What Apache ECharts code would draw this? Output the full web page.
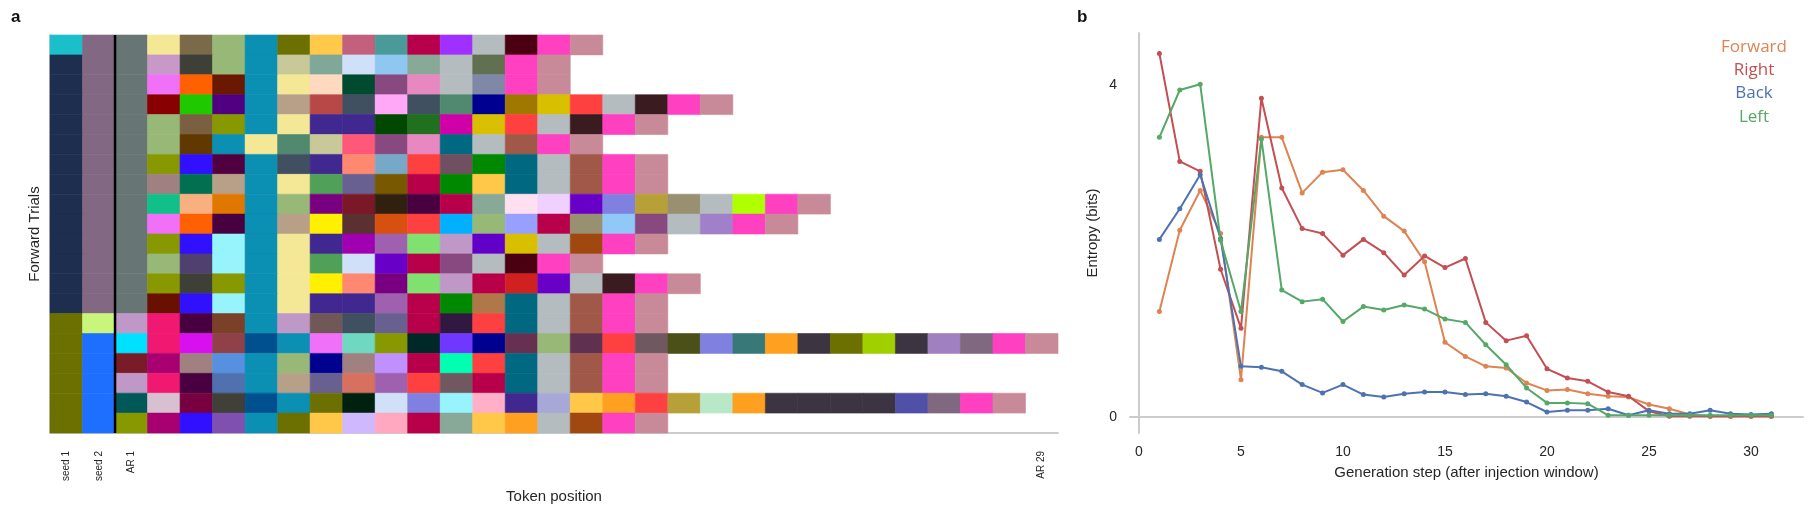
<!DOCTYPE html>
<html>
<head>
<meta charset="utf-8">
<script src="https://cdn.jsdelivr.net/npm/echarts@6/dist/echarts.min.js"></script>
<style>
  html, body { margin: 0; padding: 0; background: #fff; }
  #chart { width: 1811px; height: 511px; }
</style>
</head>
<body>
<div id="chart"></div>
<script>
// ---- panel a: token colours per trial row (col 0 = seed 1, col 1 = seed 2, col 2.. = AR 1..AR 29)
const tokenLabels = ['seed 1', 'seed 2', 'AR 1'].concat(Array(27).fill(''), ['AR 29'])
const fwd = ['#1e2e4e', '#836883', '#687575']
const tokenRows = [
    ['#1bbfc9', '#836883', '#687575', '#f4e896', '#7a6a4a', '#98b878', '#0b8fb3', '#6b7000', '#ffc94a', '#c2607e', '#4a9a9a', '#b8004a', '#a030ff', '#b4bcc0', '#4a0010', '#ff40c0', '#c88a98'],
    [...fwd, '#c898c8', '#3e4038', '#98b878', '#0b8fb3', '#c8c898', '#80a898', '#d0e0f8', '#8ec8f0', '#88a898', '#b4bcc0', '#607050', '#ff40c0', '#c88a98'],
    [...fwd, '#f070f8', '#ff6000', '#6a1800', '#0b8fb3', '#f4e896', '#ffd8c0', '#004a30', '#884880', '#e888c0', '#b4bcc0', '#8088a8', '#ff40c0', '#c88a98'],
    [...fwd, '#880000', '#20c800', '#500080', '#0b8fb3', '#b8a088', '#b84848', '#405060', '#ffa8f8', '#405060', '#508870', '#000090', '#a07800', '#d8c000', '#ff4040', '#b4bcc0', '#3a1c20', '#ff40c0', '#c88a98'],
    [...fwd, '#98b878', '#7a6040', '#889800', '#0b8fb3', '#f4e896', '#402890', '#402890', '#004800', '#207020', '#d000a8', '#d8c000', '#ff4040', '#b4bcc0', '#3a1c20', '#ff40c0', '#c88a98'],
    [...fwd, '#98b878', '#603800', '#0b8fb3', '#f4e896', '#508870', '#c8c898', '#ff5878', '#884880', '#e888c0', '#006880', '#b4bcc0', '#a05848', '#ff40c0', '#c88a98'],
    [...fwd, '#889800', '#3010ff', '#500040', '#0b8fb3', '#405060', '#402890', '#ff8870', '#78a8c8', '#ff4040', '#705060', '#008800', '#006880', '#b4bcc0', '#a05848', '#ff40c0', '#c88a98'],
    [...fwd, '#a08080', '#007050', '#b8a088', '#0b8fb3', '#f4e896', '#50a058', '#686090', '#785800', '#b8004a', '#008800', '#ffc848', '#006880', '#b4bcc0', '#a05848', '#ff40c0', '#c88a98'],
    [...fwd, '#10c088', '#f8b080', '#e07800', '#0b8fb3', '#98b878', '#780080', '#7a1828', '#302010', '#480040', '#b8004a', '#88a898', '#ffe0f0', '#f0d0ff', '#6800c8', '#8080e0', '#b8a038', '#989070', '#b4bcc0', '#b0ff00', '#ff40c0', '#c88a98'],
    [...fwd, '#f070f8', '#ff6000', '#480040', '#0b8fb3', '#b8a088', '#fff000', '#5a3030', '#d85010', '#ff4040', '#00b0ff', '#98b878', '#98a0ff', '#b8004a', '#989070', '#90c8f8', '#884880', '#b4bcc0', '#a080c8', '#ff40c0', '#c88a98'],
    [...fwd, '#889800', '#3010ff', '#98f4fc', '#0b8fb3', '#f4e896', '#402890', '#a000b0', '#a060b0', '#80e070', '#c098c8', '#6000c8', '#d8c000', '#b4bcc0', '#a04810', '#ff40c0', '#c88a98'],
    [...fwd, '#98b878', '#504070', '#98f4fc', '#0b8fb3', '#f4e896', '#50a058', '#d0e0f8', '#6800c8', '#b8004a', '#884880', '#b4bcc0', '#4a0010', '#ff40c0', '#c88a98'],
    [...fwd, '#889800', '#3e4038', '#889800', '#0b8fb3', '#f4e896', '#fff000', '#ff8870', '#780080', '#80e070', '#c098c8', '#b8004a', '#d02020', '#6800c8', '#b4bcc0', '#3a1c20', '#ff40c0', '#c88a98'],
    [...fwd, '#6a1000', '#3010ff', '#98f4fc', '#0b8fb3', '#f4e896', '#402890', '#402890', '#a060b0', '#b8004a', '#008800', '#b07848', '#006880', '#b4bcc0', '#a05848', '#ff40c0', '#c88a98'],
    ['#6b7000', '#c8f57a', '#c098c8', '#f01870', '#480040', '#7a4028', '#0b8fb3', '#c098c8', '#705858', '#405060', '#686090', '#b8004a', '#301840', '#ff4040', '#006880', '#b4bcc0', '#a05848', '#ff40c0', '#c88a98'],
    ['#6b7000', '#1f6fff', '#00e0ff', '#f01870', '#d810f0', '#904048', '#005090', '#0b8fb3', '#f070f8', '#70d8c0', '#889800', '#002828', '#7038ff', '#000090', '#683050', '#98b878', '#603050', '#ff4040', '#705860', '#4a5018', '#8080e0', '#387878', '#ffa020', '#3c3440', '#6b7000', '#a0d000', '#3c3440', '#a080c0', '#806880', '#ff40c0', '#c88a98'],
    ['#6b7000', '#1f6fff', '#7a1c28', '#a80070', '#a08080', '#5890e0', '#0b8fb3', '#98b878', '#000090', '#a08080', '#c090ff', '#b8004a', '#00ffb0', '#ff4040', '#006880', '#b4bcc0', '#a05848', '#ff40c0', '#c88a98'],
    ['#6b7000', '#1f6fff', '#c098c8', '#f01870', '#480040', '#5070b0', '#0b8fb3', '#b8a088', '#686090', '#d87060', '#a060b0', '#ff4040', '#705860', '#b8004a', '#006880', '#b4bcc0', '#a05848', '#ff40c0', '#c88a98'],
    ['#6b7000', '#1f6fff', '#005858', '#d8c0d0', '#780040', '#404038', '#005090', '#0b8fb3', '#6b7000', '#002010', '#d0e0f8', '#8080e0', '#98f4fc', '#ffb0c8', '#402890', '#a8a8d8', '#ffc848', '#ffa020', '#ff4040', '#b8a038', '#b8e8c8', '#ffa020', '#3c3440', '#3c3440', '#3c3440', '#3c3440', '#5050a8', '#806880', '#ff40c0', '#c88a98'],
    ['#6b7000', '#1f6fff', '#889800', '#a80070', '#3010ff', '#8050b0', '#0b8fb3', '#6b7000', '#ffc848', '#d0b8ff', '#ffa8c0', '#b8004a', '#88a898', '#ffc848', '#ffa020', '#b4bcc0', '#a04810', '#ff40c0', '#c88a98']
]

// ---- panel b: entropy per generation step
const steps = Array.from({ length: 31 }, (_, i) => i + 1)
const forward = [1.27, 2.25, 2.73, 2.21, 0.45, 3.37, 3.37, 2.70, 2.95, 2.98, 2.73, 2.42, 2.24, 1.87, 0.90, 0.73, 0.61, 0.59, 0.41, 0.32, 0.33, 0.28, 0.25, 0.24, 0.15, 0.10, 0.03, 0.01, 0.01, 0.01, 0.01]
const right = [4.38, 3.08, 2.96, 1.78, 1.07, 3.84, 2.76, 2.27, 2.21, 1.95, 2.14, 1.98, 1.71, 1.94, 1.80, 1.91, 1.14, 0.92, 0.98, 0.58, 0.47, 0.43, 0.30, 0.25, 0.07, 0.01, 0.01, 0.01, 0.01, 0.01, 0.01]
const back = [2.14, 2.51, 2.92, 2.15, 0.61, 0.60, 0.55, 0.39, 0.29, 0.39, 0.27, 0.24, 0.28, 0.30, 0.30, 0.27, 0.28, 0.25, 0.18, 0.06, 0.08, 0.08, 0.10, 0.02, 0.08, 0.04, 0.04, 0.08, 0.04, 0.03, 0.04]
const left = [3.37, 3.94, 4.01, 2.13, 1.27, 3.35, 1.53, 1.39, 1.42, 1.15, 1.33, 1.29, 1.35, 1.30, 1.18, 1.14, 0.87, 0.63, 0.35, 0.17, 0.17, 0.16, 0.02, 0.02, 0.02, 0.02, 0.02, 0.02, 0.02, 0.02, 0.02]
const seriesNames = ['Forward', 'Right', 'Back', 'Left']
const seriesColors = ['#dd8452', '#c44e52', '#4c72b0', '#55a868']

const font = 'Liberation Sans, Arial, sans-serif'
const axisGray = '#cccccc'

const cells = []
tokenRows.forEach((row, r) => {
    row.forEach((color, c) => {
        cells.push({ value: [c, r], itemStyle: { color } })
    })
})

const lineSeries = (name, values, i) => ({
    name,
    type: 'line',
    xAxisIndex: 1,
    yAxisIndex: 1,
    data: values.map((v, k) => [steps[k], v]),
    symbol: 'circle',
    symbolSize: 5,
    lineStyle: { width: 2, color: seriesColors[i] },
    itemStyle: { color: seriesColors[i] },
    z: 3 + i
})

const chart = echarts.init(document.getElementById('chart'))
chart.setOption({
    animation: false,
    textStyle: { fontFamily: font },
    grid: [
        { left: 50, top: 35, width: 1008, height: 398 },
        { left: 1130, top: 33, width: 673, height: 400 }
    ],
    xAxis: [
        {
            gridIndex: 0,
            type: 'category',
            data: tokenLabels,
            name: 'Token position',
            nameLocation: 'middle',
            nameGap: 52,
            nameTextStyle: { fontSize: 15, color: '#262626', fontFamily: font },
            axisLine: { lineStyle: { color: axisGray, width: 2 } },
            axisTick: { show: false },
            axisLabel: { rotate: 90, fontSize: 10, color: '#262626', margin: 18, interval: 0 },
            splitLine: { show: false }
        },
        {
            gridIndex: 1,
            type: 'value',
            min: -0.44,
            max: 32.55,
            name: 'Generation step (after injection window)',
            nameLocation: 'middle',
            nameGap: 32,
            nameTextStyle: { fontSize: 15, color: '#262626', fontFamily: font },
            axisLine: { lineStyle: { color: axisGray, width: 2 } },
            axisTick: { show: false },
            axisLabel: { fontSize: 14, color: '#262626', margin: 12, customValues: [0, 5, 10, 15, 20, 25, 30] },
            splitLine: { show: false }
        }
    ],
    yAxis: [
        {
            gridIndex: 0,
            type: 'category',
            data: tokenRows.map((_, i) => i),
            inverse: true,
            name: 'Forward Trials',
            nameLocation: 'middle',
            nameGap: 8,
            nameTextStyle: { fontSize: 15, color: '#262626', fontFamily: font },
            axisLine: { lineStyle: { color: axisGray, width: 2 } },
            axisTick: { show: false },
            axisLabel: { show: false },
            splitLine: { show: false }
        },
        {
            gridIndex: 1,
            type: 'value',
            min: -0.193,
            max: 4.627,
            name: 'Entropy (bits)',
            nameLocation: 'middle',
            nameGap: 30,
            nameTextStyle: { fontSize: 15, color: '#262626', fontFamily: font },
            axisLine: { show: true, lineStyle: { color: axisGray, width: 2 } },
            axisTick: { show: false },
            axisLabel: { fontSize: 14, color: '#262626', margin: 13, customValues: [0, 4] },
            splitLine: { show: false }
        }
    ],
    graphic: [
        { type: 'text', left: 11, top: 9, style: { text: 'a', font: 'bold 17px ' + font, fill: '#111' } },
        { type: 'text', left: 1077, top: 9, style: { text: 'b', font: 'bold 17px ' + font, fill: '#111' } },
        ...seriesNames.map((name, i) => ({
            type: 'text',
            x: 1754,
            y: 47 + i * 23.3,
            style: {
                text: name,
                font: '17px "Open Sans", "Noto Sans", sans-serif',
                fill: seriesColors[i],
                align: 'center',
                verticalAlign: 'middle'
            }
        }))
    ],
    series: [
        {
            type: 'custom',
            xAxisIndex: 0,
            yAxisIndex: 0,
            data: cells,
            renderItem: (params, api) => {
                const p = api.coord([api.value(0), api.value(1)])
                const s = api.size([1, 1])
                const color = api.visual('color')
                return {
                    type: 'rect',
                    shape: { x: p[0] - s[0] / 2, y: p[1] - s[1] / 2, width: s[0], height: s[1] },
                    style: { fill: color, stroke: color, lineWidth: 0.6 }
                }
            }
        },
        {
            // divider between the seed tokens and the autoregressive tokens
            type: 'custom',
            xAxisIndex: 0,
            yAxisIndex: 0,
            data: [[2, 0]],
            z: 5,
            renderItem: (params, api) => {
                const p = api.coord([api.value(0), 0])
                const s = api.size([1, 1])
                const x = p[0] - s[0] / 2
                return {
                    type: 'line',
                    shape: { x1: x, y1: params.coordSys.y, x2: x, y2: params.coordSys.y + params.coordSys.height },
                    style: { stroke: '#000', lineWidth: 2.5 }
                }
            }
        },
        lineSeries('Forward', forward, 0),
        lineSeries('Left', left, 3),
        lineSeries('Back', back, 2),
        lineSeries('Right', right, 1)
    ]
})

window.addEventListener('resize', () => chart.resize())
</script>
</body>
</html>
